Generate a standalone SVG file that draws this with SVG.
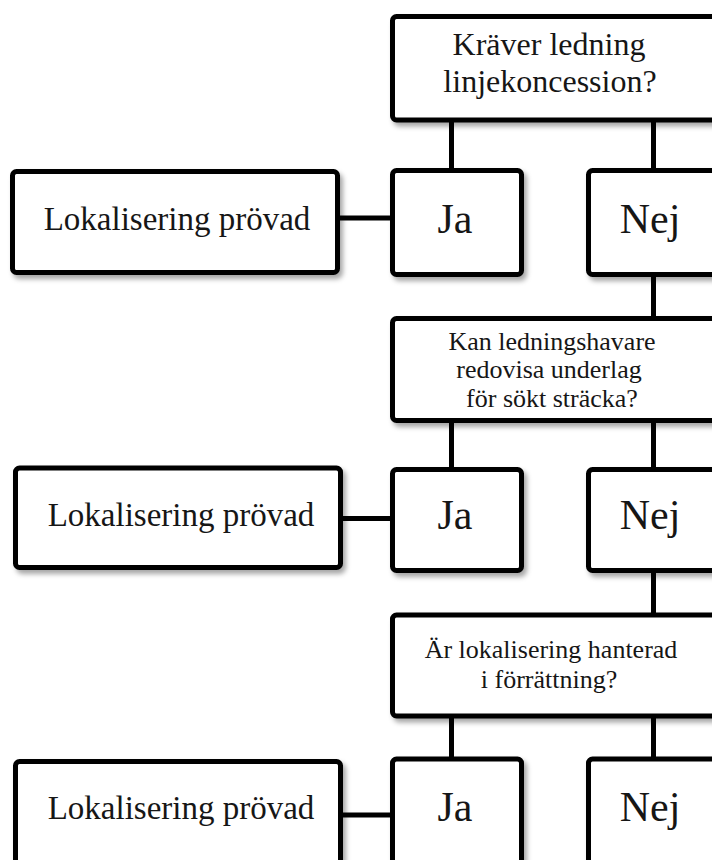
<svg xmlns="http://www.w3.org/2000/svg" width="712" height="860" viewBox="0 0 712 860">
  <defs>
    <filter id="sh" x="-10%" y="-10%" width="130%" height="140%">
      <feDropShadow dx="3" dy="4" stdDeviation="2.5" flood-color="#000" flood-opacity="0.35"/>
    </filter>
  </defs>
  <style>
    .box { fill: #ffffff; stroke: #000000; stroke-width: 5; filter: url(#sh); }
    .con { stroke: #000000; stroke-width: 5; fill: none; }
    text { font-family: "Liberation Serif", "Times New Roman", serif; fill: #161616; text-anchor: middle; }
    .q { font-size: 32px; }
    .q2 { font-size: 26px; }
    .yn { font-size: 42px; }
    .lok { font-size: 33px; }
  </style>
  <rect width="712" height="860" fill="#ffffff"/>

  <g id="connectors">
    <line class="con" x1="451.5" y1="120" x2="451.5" y2="170.5"/>
    <line class="con" x1="653.5" y1="120" x2="653.5" y2="170.5"/>
    <line class="con" x1="337.5" y1="218" x2="392.5" y2="218"/>
    <line class="con" x1="653.5" y1="274.5" x2="653.5" y2="318.5"/>
    <line class="con" x1="451.5" y1="420.5" x2="451.5" y2="469.5"/>
    <line class="con" x1="653.5" y1="420.5" x2="653.5" y2="469.5"/>
    <line class="con" x1="340.5" y1="518.5" x2="392.5" y2="518.5"/>
    <line class="con" x1="653.5" y1="570.5" x2="653.5" y2="615"/>
    <line class="con" x1="451.5" y1="716" x2="451.5" y2="759"/>
    <line class="con" x1="653.5" y1="716" x2="653.5" y2="759"/>
    <line class="con" x1="340.5" y1="815" x2="392.5" y2="815"/>
  </g>

  <g id="q1">
    <rect class="box" x="392.5" y="16.5" width="350" height="103.5" rx="4"/>
    <text class="q" x="549" y="55">Kräver ledning</text>
    <text class="q" x="550" y="92">linjekoncession?</text>
  </g>
  <g id="lok1">
    <rect class="box" x="12.5" y="171.5" width="325" height="101" rx="4"/>
    <text class="lok" x="177" y="230">Lokalisering prövad</text>
  </g>
  <g id="ja1">
    <rect class="box" x="392.5" y="170.5" width="129" height="104" rx="4"/>
    <text class="yn" x="455" y="233">Ja</text>
  </g>
  <g id="nej1">
    <rect class="box" x="588.5" y="170.5" width="150" height="104" rx="4"/>
    <text class="yn" x="650" y="233">Nej</text>
  </g>

  <g id="q2">
    <rect class="box" x="392.5" y="318.5" width="350" height="102" rx="4"/>
    <text class="q2" x="552" y="350">Kan ledningshavare</text>
    <text class="q2" x="549" y="378">redovisa underlag</text>
    <text class="q2" x="552" y="407">för sökt sträcka?</text>
  </g>
  <g id="lok2">
    <rect class="box" x="15.5" y="468" width="325" height="99.5" rx="4"/>
    <text class="lok" x="181" y="526">Lokalisering prövad</text>
  </g>
  <g id="ja2">
    <rect class="box" x="392.5" y="469.5" width="129" height="101" rx="4"/>
    <text class="yn" x="455" y="529">Ja</text>
  </g>
  <g id="nej2">
    <rect class="box" x="588.5" y="469.5" width="150" height="101" rx="4"/>
    <text class="yn" x="650" y="529">Nej</text>
  </g>

  <g id="q3">
    <rect class="box" x="392.5" y="615" width="350" height="101" rx="4"/>
    <text class="q2" x="551" y="658">Är lokalisering hanterad</text>
    <text class="q2" x="549" y="688">i förrättning?</text>
  </g>
  <g id="lok3">
    <rect class="box" x="15.5" y="761.5" width="325" height="120" rx="4"/>
    <text class="lok" x="181" y="819">Lokalisering prövad</text>
  </g>
  <g id="ja3">
    <rect class="box" x="392.5" y="759" width="129" height="120" rx="4"/>
    <text class="yn" x="455" y="821">Ja</text>
  </g>
  <g id="nej3">
    <rect class="box" x="588.5" y="759" width="150" height="120" rx="4"/>
    <text class="yn" x="650" y="821">Nej</text>
  </g>
</svg>
